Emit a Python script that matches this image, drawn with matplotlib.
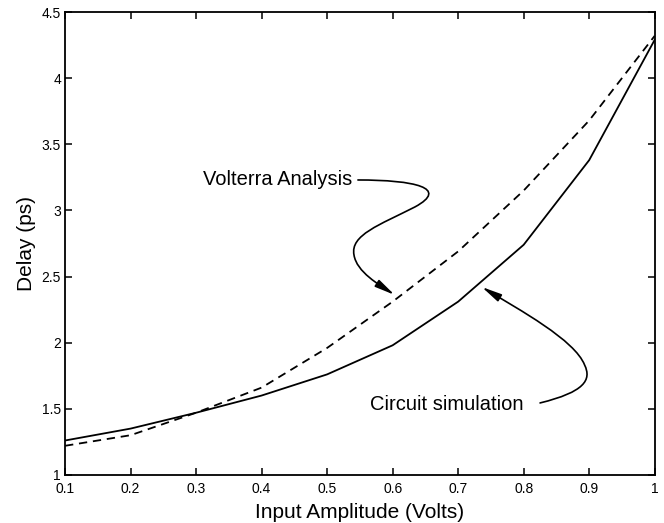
import numpy as np
import matplotlib.pyplot as plt
from matplotlib.path import Path
from matplotlib.patches import FancyArrowPatch
from matplotlib.ticker import FuncFormatter

plt.rcParams['font.family'] = ['Liberation Sans', 'DejaVu Sans']

# input amplitude (V)
amp = [0.1, 0.2, 0.3, 0.4, 0.5, 0.6, 0.7, 0.8, 0.9, 1.0]
# delay (ps)
circuit_sim = [1.26, 1.35, 1.47, 1.60, 1.76, 1.98, 2.31, 2.74, 3.38, 4.29]
volterra = [1.22, 1.30, 1.47, 1.66, 1.96, 2.31, 2.69, 3.15, 3.68, 4.32]

xticks = [0.1, 0.2, 0.3, 0.4, 0.5, 0.6, 0.7, 0.8, 0.9, 1.0]
yticks = [1, 1.5, 2, 2.5, 3, 3.5, 4, 4.5]

fig = plt.figure(figsize=(6.64, 5.23), dpi=100)
ax = fig.add_axes([0.098, 0.092, 0.888, 0.885])

ax.plot(amp, circuit_sim, color='black', lw=1.3)
ax.plot(amp, volterra, color='black', lw=1.3, dashes=(4.6, 3.2))

ax.set_xlim(0.1, 1.0)
ax.set_ylim(1, 4.5)
ax.set_xticks(xticks)
ax.set_yticks(yticks)
ax.xaxis.set_major_formatter(FuncFormatter(lambda v, p: '%g' % v))
ax.yaxis.set_major_formatter(FuncFormatter(lambda v, p: '%g' % v))
ax.tick_params(direction='in', length=5, width=1.1, top=True, right=True,
               labelsize=10)
ax.tick_params(axis='x', pad=5)
ax.tick_params(axis='y', pad=3)
for s in ax.spines.values():
    s.set_linewidth(1.3)

ax.set_xlabel('Input Amplitude (Volts)', fontsize=15, labelpad=5)
ax.set_ylabel('Delay (ps)', fontsize=15, labelpad=4)

# annotations with S-shaped arrows
ax.text(0.538, 3.23, 'Volterra Analysis', ha='right', va='center', fontsize=14.5)
ax.text(0.565, 1.53, 'Circuit simulation', ha='left', va='center', fontsize=14.5)

c4 = Path.CURVE4
v_verts = [(0.547, 3.230), (0.634, 3.230), (0.687, 3.169), (0.634, 3.026),
           (0.580, 2.890), (0.535, 2.814), (0.541, 2.663),
           (0.545, 2.534), (0.580, 2.436), (0.603, 2.361)]
c_verts = [(0.825, 1.544), (0.893, 1.627), (0.904, 1.718), (0.893, 1.831),
           (0.878, 2.020), (0.794, 2.247), (0.736, 2.421)]

for verts in (v_verts, c_verts):
    codes = [Path.MOVETO] + [c4] * (len(verts) - 1)
    arr = FancyArrowPatch(path=Path(verts, codes),
                          arrowstyle='-|>,head_length=1.0,head_width=0.2',
                          mutation_scale=12, color='black', lw=1.2,
                          transform=ax.transData)
    ax.add_patch(arr)

fig.savefig('out.png', dpi=100)
